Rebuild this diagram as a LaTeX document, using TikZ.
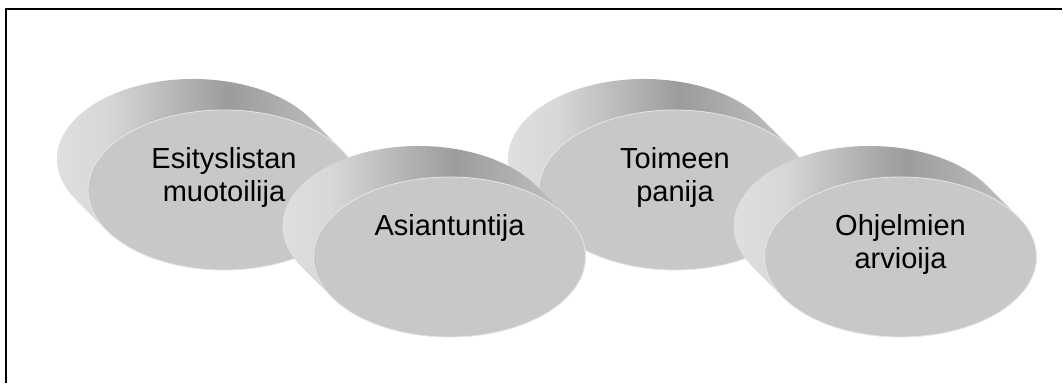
\documentclass[tikz,border=0pt]{standalone}
\usepackage{fontspec}
\setmainfont{Liberation Sans}
\usetikzlibrary{shapes.geometric,calc}
\definecolor{faceGray}{HTML}{C8C8C8}
\definecolor{rimGray}{HTML}{E6E6E6}
\definecolor{sideLight}{HTML}{E2E2E2}
\definecolor{sideDark}{HTML}{9C9C9C}
\definecolor{sideRight}{HTML}{CACACA}
\pgfdeclarehorizontalshading{discside}{100bp}{color(0bp)=(sideLight);
  color(25bp)=(sideLight); color(35bp)=(sideLight!85!sideDark);
  color(53bp)=(sideDark); color(73bp)=(sideRight); color(100bp)=(sideRight)}
\tikzset{
  face/.style={ellipse, draw=rimGray, line width=0.8pt, fill=faceGray,
    minimum width=272pt, minimum height=160pt, inner sep=0pt},
  side/.style={shading=discside},
  role/.style={anchor=base, align=center, inner sep=0pt,
    font=\fontsize{29}{33}\selectfont}
}
\begin{document}
\begin{tikzpicture}[x=1pt,y=1pt]
  \useasboundingbox (0,0) rectangle (1063,383);
  % frame
  \draw[line width=2pt] (6,0) -- (6,374) -- (1062,374);
  % disc centres
  \coordinate (c1) at (224,193);
  \coordinate (c2) at (449.5,126);
  \coordinate (c3) at (675,193);
  \coordinate (c4) at (900.5,126);
  % Esityslistan muotoilija
  \path[side] ($(c1)+(30.47:136 and 80)$) -- ++(-31,31)
    arc[start angle=30.47, end angle=210.47, x radius=136, y radius=80] -- ++(31,-31)
    arc[start angle=210.47, end angle=390.47, x radius=136, y radius=80] -- cycle;
  \node[face] (f1) at (c1) {};
  \node[role] (r1) at ($(c1)+(0,-12)$) {Esityslistan\\muotoilija};
  % Toimeen panija
  \path[side] ($(c3)+(30.47:136 and 80)$) -- ++(-31,31)
    arc[start angle=30.47, end angle=210.47, x radius=136, y radius=80] -- ++(31,-31)
    arc[start angle=210.47, end angle=390.47, x radius=136, y radius=80] -- cycle;
  \node[face] (f3) at (c3) {};
  \node[role] (r3) at ($(c3)+(0,-12)$) {Toimeen\\panija};
  % Asiantuntija
  \path[side] ($(c2)+(30.47:136 and 80)$) -- ++(-31,31)
    arc[start angle=30.47, end angle=210.47, x radius=136, y radius=80] -- ++(31,-31)
    arc[start angle=210.47, end angle=390.47, x radius=136, y radius=80] -- cycle;
  \node[face] (f2) at (c2) {};
  \node[role] (r2) at ($(c2)+(0,21)$) {Asiantuntija};
  % Ohjelmien arvioija
  \path[side] ($(c4)+(30.47:136 and 80)$) -- ++(-31,31)
    arc[start angle=30.47, end angle=210.47, x radius=136, y radius=80] -- ++(31,-31)
    arc[start angle=210.47, end angle=390.47, x radius=136, y radius=80] -- cycle;
  \node[face] (f4) at (c4) {};
  \node[role] (r4) at ($(c4)+(0,-12)$) {Ohjelmien\\arvioija};
\end{tikzpicture}
\end{document}
